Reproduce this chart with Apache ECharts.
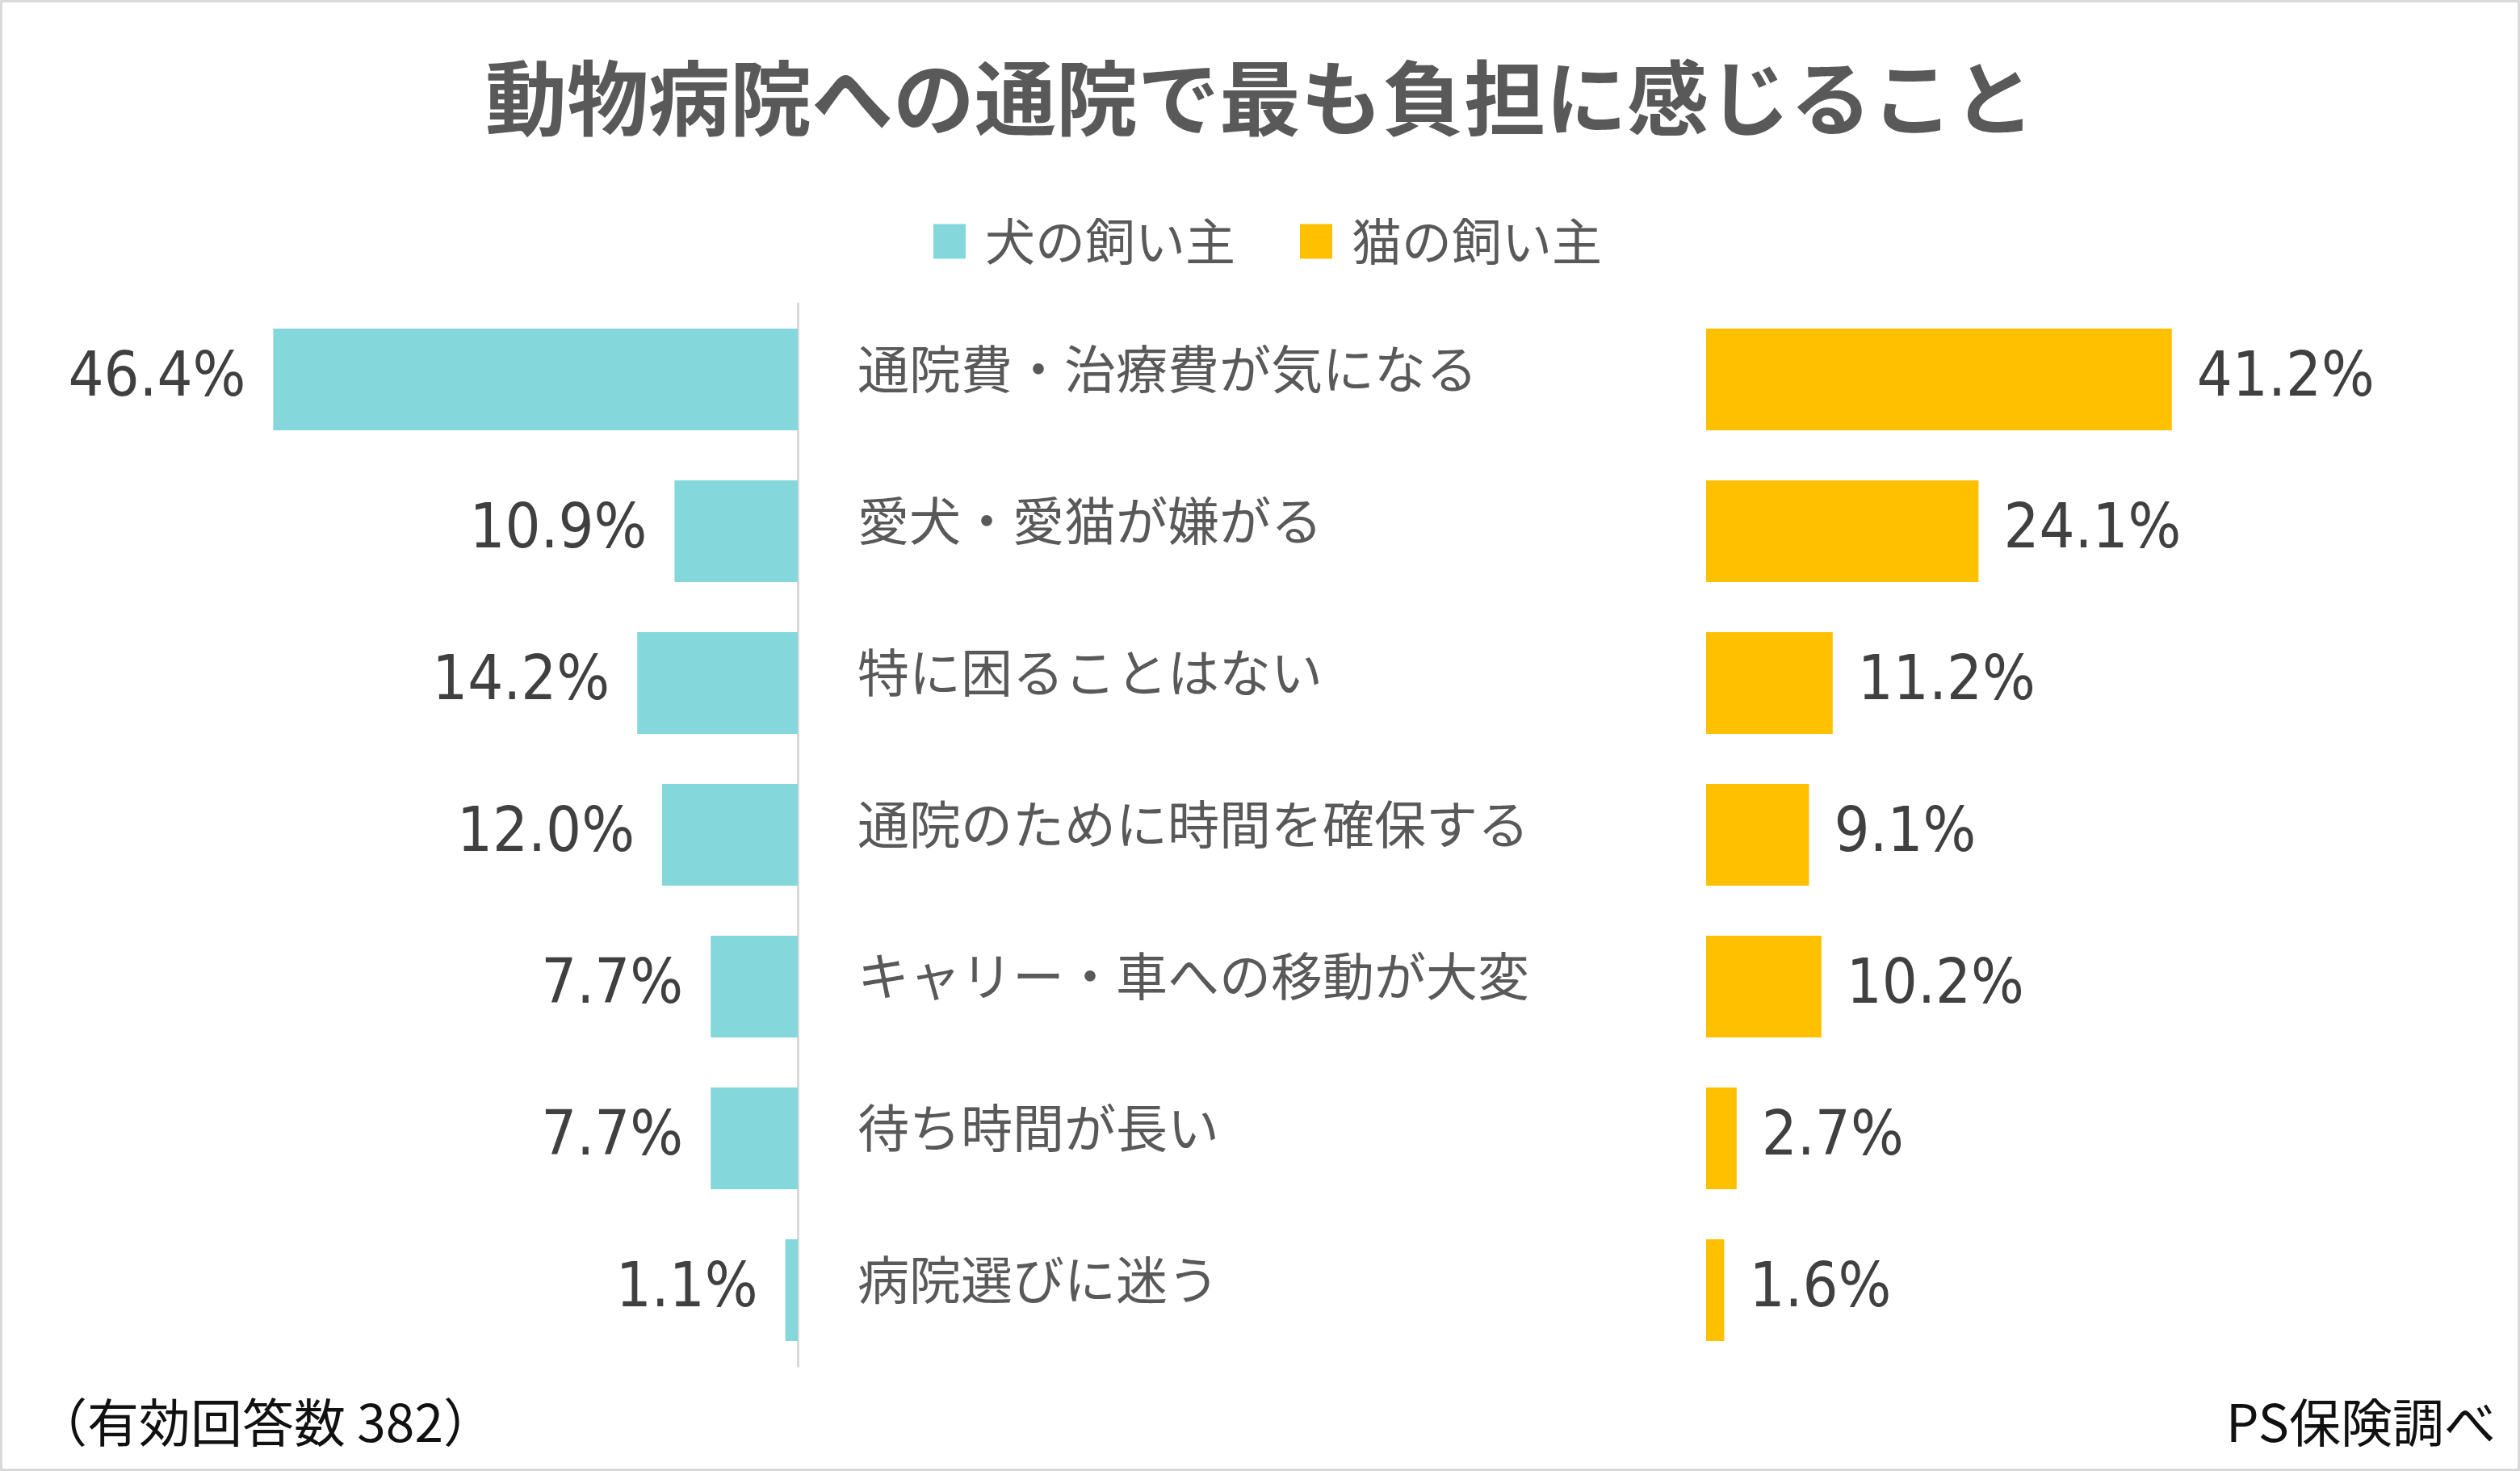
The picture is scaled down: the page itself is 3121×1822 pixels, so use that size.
<!DOCTYPE html>
<html>
<head>
<meta charset="utf-8">
<script src="https://cdn.jsdelivr.net/npm/echarts@6/dist/echarts.min.js"></script>
<style>
  html, body { margin: 0; padding: 0; background: #fff; }
  #chart { width: 3121px; height: 1822px; }
</style>
</head>
<body>
<div id="chart"></div>
<script>
// 項目（上から順）
const categories = [
  '通院費・治療費が気になる',
  '愛犬・愛猫が嫌がる',
  '特に困ることはない',
  '通院のために時間を確保する',
  'キャリー・車への移動が大変',
  '待ち時間が長い',
  '病院選びに迷う'
];
// 犬の飼い主 (%)
const dogValues = [46.4, 10.9, 14.2, 12.0, 7.7, 7.7, 1.1];
// 猫の飼い主 (%)
const catValues = [41.2, 24.1, 11.2, 9.1, 10.2, 2.7, 1.6];

const seriesNames = ['犬の飼い主', '猫の飼い主'];
const colors = ['#84D7DB', '#FFC000'];

const jpFont = '"Noto Sans CJK JP", "Noto Sans", sans-serif';
const numFont = '"DejaVu Sans Condensed", "DejaVu Sans", sans-serif';

const chart = echarts.init(document.getElementById('chart'));

const pct = p => p.value.toFixed(1) + '%';

const option = {
  backgroundColor: '#fff',
  animation: false,
  title: {
    text: '動物病院への通院で最も負担に感じること',
    left: 'center',
    top: 66,
    textStyle: {
      fontFamily: jpFont,
      fontSize: 101,
      fontWeight: 'bold',
      color: '#595959'
    }
  },
  legend: {
    top: 263,
    left: 1151,
    icon: 'rect',
    itemWidth: 40,
    itemHeight: 43,
    itemGap: 80,
    data: seriesNames,
    textStyle: {
      fontFamily: jpFont,
      fontSize: 62,
      color: '#595959',
      padding: [0, 0, 12, 19]
    }
  },
  grid: [
    { left: 288, width: 700, top: 376, height: 1316 },
    { left: 2113, width: 700, top: 376, height: 1316 }
  ],
  xAxis: [
    { type: 'value', gridIndex: 0, min: 0, max: 50, inverse: true, show: false },
    { type: 'value', gridIndex: 1, min: 0, max: 50, show: false }
  ],
  yAxis: [
    {
      type: 'category',
      gridIndex: 0,
      data: categories,
      inverse: true,
      position: 'right',
      axisLine: { show: true, lineStyle: { color: '#d9d9d9', width: 3 } },
      axisTick: { show: false },
      axisLabel: {
        show: true,
        align: 'left',
        verticalAlign: 'bottom',
        lineHeight: 26,
        margin: 74,
        fontFamily: jpFont,
        fontSize: 64,
        color: '#595959'
      }
    },
    {
      type: 'category',
      gridIndex: 1,
      data: categories,
      inverse: true,
      show: false
    }
  ],
  series: [
    {
      name: seriesNames[0],
      type: 'bar',
      xAxisIndex: 0,
      yAxisIndex: 0,
      data: dogValues,
      barWidth: 126,
      itemStyle: { color: colors[0] },
      label: {
        show: true,
        position: 'left',
        distance: 34,
        formatter: pct,
        fontFamily: numFont,
        fontSize: 77,
        color: '#404040'
      }
    },
    {
      name: seriesNames[1],
      type: 'bar',
      xAxisIndex: 1,
      yAxisIndex: 1,
      data: catValues,
      barWidth: 126,
      itemStyle: { color: colors[1] },
      label: {
        show: true,
        position: 'right',
        distance: 31,
        formatter: pct,
        fontFamily: numFont,
        fontSize: 77,
        color: '#404040'
      }
    }
  ],
  graphic: [
    {
      type: 'rect',
      shape: { x: 1.5, y: 1.5, width: 3118, height: 1819 },
      style: { fill: 'none', stroke: '#d9d9d9', lineWidth: 3 },
      silent: true
    },
    {
      type: 'text',
      left: 44,
      top: 1730,
      style: {
        text: '（有効回答数 382）',
        fontFamily: jpFont,
        fontSize: 64,
        fill: '#111'
      }
    },
    {
      type: 'text',
      right: 30,
      top: 1730,
      style: {
        text: 'PS保険調べ',
        fontFamily: jpFont,
        fontSize: 64,
        fill: '#111'
      }
    }
  ]
};

chart.setOption(option);
</script>
</body>
</html>
